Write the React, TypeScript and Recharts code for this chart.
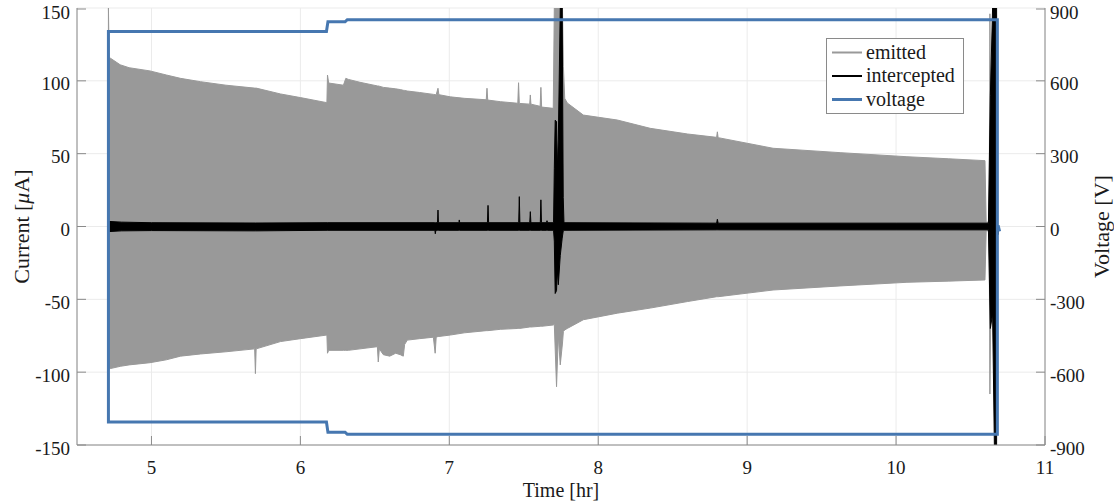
import React from 'react';
import { ComposedChart, Area, Line, XAxis, YAxis, CartesianGrid, Legend } from 'recharts';

const FONT = "'Liberation Serif', 'DejaVu Serif', 'Times New Roman', serif";
const AXIS = '#8a8a8a';
const GRID = '#ebebeb';
const GRAY = '#999999';
const BLUE = '#4677b0';
const TEXT = '#1a1a1a';

const timeTicks = [5, 6, 7, 8, 9, 10, 11];
const currentTicks = [-150, -100, -50, 0, 50, 100, 150];
const voltageTicks = [-900, -600, -300, 0, 300, 600, 900];

// emitted current envelope (uA)
const emittedTime = [
  4.709, 4.711, 4.716, 4.725, 4.79, 4.85, 4.99, 5.1, 5.195, 5.33, 5.5, 5.693, 5.698, 5.703, 5.866, 6.0,
  6.178, 6.182, 6.19, 6.289, 6.305, 6.322, 6.4, 6.517, 6.523, 6.53, 6.557, 6.6, 6.64, 6.671, 6.691, 6.7,
  6.718, 6.8, 6.893, 6.905, 6.912, 6.924, 6.93, 7.007, 7.1, 7.248, 7.253, 7.258, 7.342, 7.46, 7.465, 7.47,
  7.54, 7.544, 7.548, 7.61, 7.615, 7.62, 7.698, 7.705, 7.72, 7.732, 7.745, 7.76, 7.766, 7.775, 7.792, 7.9,
  8.128, 8.349, 8.6, 8.795, 8.8, 8.805, 9.174, 9.624, 10.073, 10.35, 10.597, 10.605, 10.625, 10.63, 10.638, 10.645,
];
const emittedLow = [
  0, -98, -98, -97.5, -96, -95, -93.5, -91.5, -89, -87.5, -86, -84, -101, -84, -79, -77,
  -74.5, -87, -85, -85, -85, -85, -84, -82.5, -93, -84, -88, -89, -87, -88, -89, -81,
  -78, -77, -76, -87, -76, -75.5, -75.5, -74.5, -73, -71.5, -71.5, -71.5, -70.6, -70, -70, -70,
  -69, -69, -69, -68.5, -68.5, -68.5, -67.6, -67, -110, -75, -95, -80, -72, -71, -70, -64,
  -59.5, -56, -51.5, -48.2, -48.2, -48.2, -43.6, -40.8, -38.3, -37.5, -36.7, -3, -3, -115, -40, -2,
];
const emittedHigh = [
  0, 150, 116, 115.5, 111, 109, 106.8, 104, 101.7, 99.4, 97, 95, 95, 95, 91, 88.5,
  85, 104, 98.5, 97, 101.7, 101, 99, 96.5, 96.5, 96.3, 95.5, 95, 94.5, 94, 93.5, 93.4,
  93, 92, 90.7, 90.5, 90.5, 94.9, 90.5, 89, 88, 87, 94.9, 86.8, 85.7, 84.6, 98.7, 84.5,
  84, 90.3, 84, 82.5, 95.5, 82, 81.1, 150, 150, 150, 150, 150, 110, 88, 84.8, 76.5,
  73.1, 67.4, 63.5, 61.2, 65, 61, 53.7, 50.7, 47.9, 46.5, 45.2, 3, 3, 146, 50, 2,
];

// intercepted current envelope (uA)
const interceptedTime = [
  4.709, 4.712, 4.8, 5.0, 5.7, 6.18, 6.903, 6.906, 6.91, 6.921, 6.924, 6.927, 7.064, 7.067, 7.07, 7.256,
  7.26, 7.264, 7.466, 7.47, 7.474, 7.54, 7.544, 7.548, 7.611, 7.615, 7.619, 7.652, 7.656, 7.66, 7.7, 7.705,
  7.711, 7.72, 7.725, 7.732, 7.745, 7.758, 7.765, 7.77, 8.795, 8.8, 8.805, 10.0, 10.62, 10.633, 10.648, 10.66,
  10.675, 10.68, 10.69,
];
const interceptedLow = [
  0, -3.5, -3, -2.8, -3, -2.6, -2.6, -5, -2.6, -2.6, -2.6, -2.6, -2.6, -2.6, -2.6, -2.6,
  -2.6, -2.6, -2.6, -2.6, -2.6, -2.6, -2.6, -2.6, -2.6, -2.6, -2.6, -2.6, -2.6, -2.6, -2.6, -10,
  -46, -44, -30, -40, -20, -8, -3, -2.6, -2.3, -2.3, -2.3, -2.3, -2.3, -70, -60, -150,
  -150, -6, -5,
];
const interceptedHigh = [
  0, 3.5, 3, 2.6, 2.4, 2.6, 2.6, 2.6, 2.6, 2.6, 11.3, 2.6, 2.6, 4.5, 2.6, 2.6,
  14.5, 2.6, 2.6, 20.5, 2.6, 2.6, 10.2, 2.6, 2.6, 18.3, 2.6, 2.6, 4, 2.6, 2.6, 40,
  73, 72, 40, 60, 150, 150, 20, 2.6, 2.3, 5, 2.3, 2.3, 2.3, 90, 150, 150,
  150, 0, -2,
];

// voltage trace (V), drawn in the order of the recording path
const voltageTime = [
  10.695, 10.687, 10.68, 10.68, 6.315, 6.3, 6.185, 6.175, 4.711, 4.711, 6.175, 6.185, 6.3, 6.315, 10.68, 10.68,
];
const voltageValue = [
  -20, 0, 0, 852, 852, 843, 843, 803, 803, -805, -805, -847, -847, -856, -856, 0,
];

const emittedData = emittedTime.map((t, i) => ({ t, range: [emittedLow[i], emittedHigh[i]] }));
const interceptedData = interceptedTime.map((t, i) => ({ t, range: [interceptedLow[i], interceptedHigh[i]] }));
const voltageData = voltageTime.map((t, i) => ({ t, v: voltageValue[i] }));

const TICK_LEN = 9;

const BottomTick = (props: any) => {
  const { x, y, payload } = props;
  return (
    <g>
      <line x1={x} x2={x} y1={y} y2={y - TICK_LEN} stroke={AXIS} />
      <text x={x} y={y + 29} textAnchor="middle" style={{ fontFamily: FONT, fontSize: 19 }} fill={TEXT}>
        {payload.value}
      </text>
    </g>
  );
};

const TopTick = (props: any) => {
  const { x, y } = props;
  return <line x1={x} x2={x} y1={y} y2={y + TICK_LEN} stroke={AXIS} />;
};

const LeftTick = (props: any) => {
  const { x, y, payload } = props;
  return (
    <g>
      <line x1={x} x2={x + TICK_LEN} y1={y} y2={y} stroke={AXIS} />
      <text x={x - 7} y={y + 9.5} textAnchor="end" style={{ fontFamily: FONT, fontSize: 19 }} fill={TEXT}>
        {payload.value}
      </text>
    </g>
  );
};

const RightTick = (props: any) => {
  const { x, y, payload } = props;
  return (
    <g>
      <line x1={x} x2={x - TICK_LEN} y1={y} y2={y} stroke={AXIS} />
      <text x={x + 5} y={y + 9.5} textAnchor="start" style={{ fontFamily: FONT, fontSize: 19 }} fill={TEXT}>
        {payload.value}
      </text>
    </g>
  );
};

const PLOT_MID_Y = (8 + 445) / 2;

const SideTitle = ({ cx, children }: any) => (
  <text
    x={cx}
    y={PLOT_MID_Y}
    transform={`rotate(-90 ${cx} ${PLOT_MID_Y})`}
    textAnchor="middle"
    dominantBaseline="central"
    style={{ fontFamily: FONT, fontSize: 22 }}
    fill={TEXT}
  >
    {children}
  </text>
);

const legendRows = ['emitted', 'intercepted', 'voltage'];
const legendColors = [GRAY, '#000000', BLUE];
const legendWidths = [2, 2, 3];

const LegendBox = () => (
  <svg width={138} height={76} style={{ display: 'block' }}>
    <rect x={0.5} y={0.5} width={137} height={75} fill="#ffffff" stroke={AXIS} />
    {legendRows.map((name, i) => {
      const y = 14.5 + i * 23.5;
      return (
        <g key={name}>
          <line x1={6} x2={36} y1={y} y2={y} stroke={legendColors[i]} strokeWidth={legendWidths[i]} />
          <text x={40} y={y + 6} style={{ fontFamily: FONT, fontSize: 20 }} fill={TEXT}>
            {name}
          </text>
        </g>
      );
    })}
  </svg>
);

export default function App() {
  return (
    <div style={{ position: 'absolute', left: 0, top: 0, fontFamily: FONT }}>
      <ComposedChart width={1114} height={502} margin={{ top: 8, right: 0, bottom: 0, left: 0 }}>
        <CartesianGrid xAxisId="b" yAxisId="left" stroke={GRID} />
        <XAxis
          xAxisId="b"
          dataKey="t"
          type="number"
          domain={[4.5, 11]}
          ticks={timeTicks}
          allowDataOverflow
          height={57}
          tickSize={0}
          tickMargin={0}
          tickLine={false}
          axisLine={{ stroke: AXIS }}
          tick={(p: any) => <BottomTick {...p} />}
          label={{
            value: 'Time [hr]',
            position: 'insideBottom',
            offset: 5,
            style: { fontFamily: FONT, fontSize: 20, fill: TEXT },
          }}
        />
        <XAxis
          xAxisId="top"
          orientation="top"
          dataKey="t"
          type="number"
          domain={[4.5, 11]}
          ticks={timeTicks}
          allowDataOverflow
          height={0}
          tickSize={0}
          tickMargin={0}
          tickLine={false}
          axisLine={{ stroke: AXIS }}
          tick={(p: any) => <TopTick {...p} />}
        />
        <YAxis
          yAxisId="left"
          domain={[-150, 150]}
          ticks={currentTicks}
          allowDataOverflow
          width={77}
          tickSize={0}
          tickMargin={0}
          tickLine={false}
          axisLine={{ stroke: AXIS }}
          tick={(p: any) => <LeftTick {...p} />}
          label={() => (
            <SideTitle cx={21}>
              Current [<tspan fontStyle="italic">μ</tspan>A]
            </SideTitle>
          )}
        />
        <YAxis
          yAxisId="right"
          orientation="right"
          domain={[-900, 900]}
          ticks={voltageTicks}
          allowDataOverflow
          width={69}
          tickSize={0}
          tickMargin={0}
          tickLine={false}
          axisLine={{ stroke: AXIS }}
          tick={(p: any) => <RightTick {...p} />}
          label={() => <SideTitle cx={1101}>Voltage [V]</SideTitle>}
        />
        <Legend
          layout="vertical"
          align="center"
          verticalAlign="middle"
          wrapperStyle={{ left: 826, top: 38, width: 138, height: 76 }}
          content={() => <LegendBox />}
        />
        <Area
          xAxisId="b"
          yAxisId="left"
          name="emitted"
          data={emittedData}
          dataKey="range"
          type="linear"
          stroke={GRAY}
          strokeWidth={1}
          fill={GRAY}
          fillOpacity={1}
          dot={false}
          activeDot={false}
          isAnimationActive={false}
        />
        <Area
          xAxisId="b"
          yAxisId="left"
          name="intercepted"
          data={interceptedData}
          dataKey="range"
          type="linear"
          stroke="#000000"
          strokeWidth={1}
          fill="#000000"
          fillOpacity={1}
          dot={false}
          activeDot={false}
          isAnimationActive={false}
        />
        <Line
          xAxisId="b"
          yAxisId="right"
          name="voltage"
          data={voltageData}
          dataKey="v"
          type="linear"
          stroke={BLUE}
          strokeWidth={3}
          dot={false}
          activeDot={false}
          isAnimationActive={false}
        />
      </ComposedChart>
    </div>
  );
}
